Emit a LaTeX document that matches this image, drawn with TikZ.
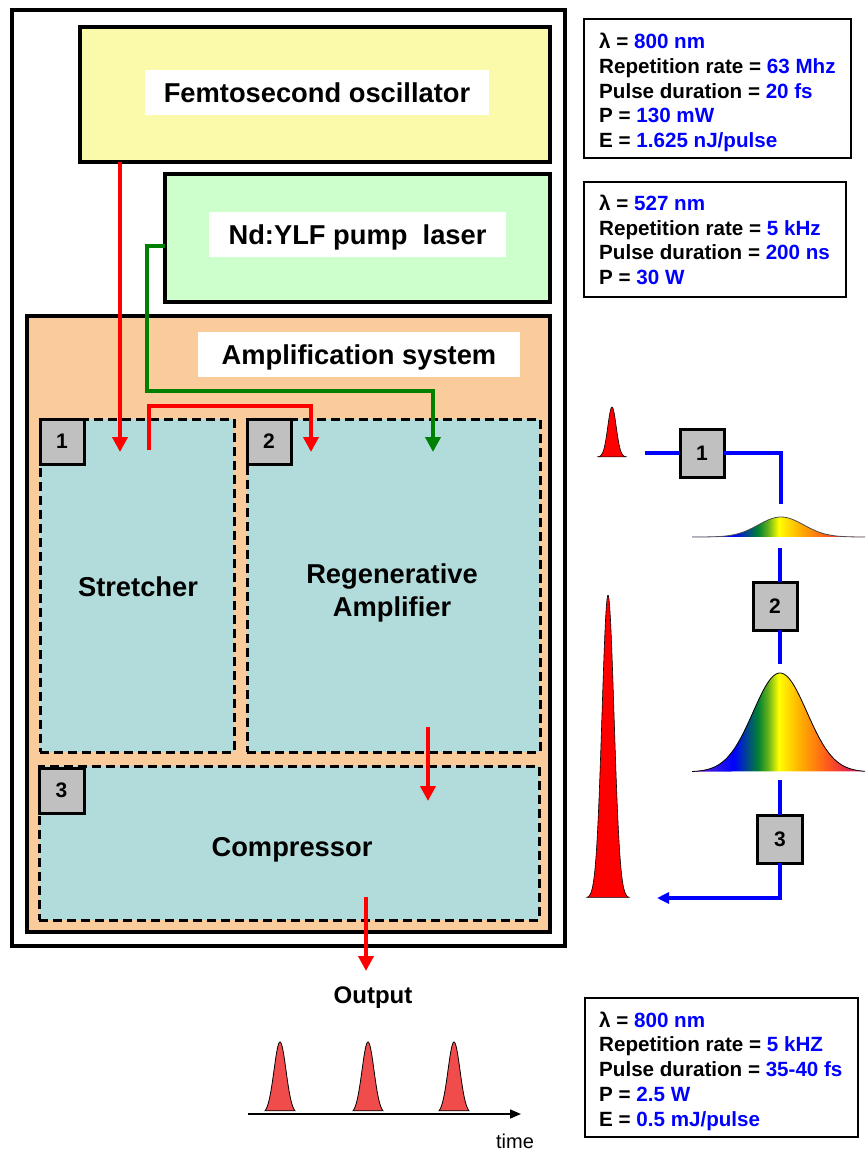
\documentclass[tikz,border=0pt]{standalone}
\usepackage{fontspec}
\setmainfont{Liberation Sans}
\usetikzlibrary{arrows.meta}
\definecolor{oscY}{RGB}{250,250,170}
\definecolor{pumpG}{RGB}{204,255,204}
\definecolor{ampO}{RGB}{250,204,155}
\definecolor{stageC}{RGB}{178,220,220}
\definecolor{numG}{RGB}{192,192,192}
\definecolor{beamR}{RGB}{255,0,0}
\definecolor{beamG}{RGB}{0,128,0}
\definecolor{valB}{RGB}{0,0,255}
\definecolor{pulseR}{RGB}{240,76,76}
\pgfdeclarehorizontalshading{rainbow}{100bp}{rgb(0bp)=(0.55,0,0.75); rgb(25bp)=(0.55,0,0.75); rgb(31bp)=(0.2,0.1,0.9); rgb(37bp)=(0,0,1); rgb(44bp)=(0,0.5,0.2); rgb(47bp)=(0.4,0.7,0.1); rgb(50bp)=(1,1,0); rgb(56bp)=(1,0.7,0); rgb(64bp)=(1,0.35,0.1); rgb(70bp)=(0.9,0.15,0.3); rgb(75bp)=(0.9,0.2,0.5); rgb(100bp)=(0.9,0.2,0.5)}
\begin{document}
\begin{tikzpicture}[x=1pt,y=-1pt,
  boxframe/.style={draw=black, line width=3.5pt, inner sep=0pt, outer sep=0pt},
  whitelabel/.style={fill=white, inner sep=0pt, text height=19.5pt, text depth=0pt, font=\fontsize{27.3}{33}\selectfont\bfseries},
  txt/.style={inner sep=0pt, text height=19.5pt, text depth=0pt, font=\fontsize{27.3}{33}\selectfont\bfseries},
  stagebox/.style={draw=black, dash pattern=on 9pt off 5pt, line width=3pt, fill=stageC, inner sep=0pt, outer sep=0pt},
  numbox/.style={draw=black, line width=3pt, fill=numG, inner sep=0pt, outer sep=0pt, font=\fontsize{21}{21}\selectfont\bfseries},
  beam/.style={line width=4.5pt, -{Triangle[length=15pt,width=15pt]}},
  bline/.style={line width=3.8pt, draw=valB},
  infobox/.style={draw=black, line width=2pt, fill=white, inner sep=0pt},
  infotext/.style={align=left, anchor=west, inner sep=0pt, font=\fontsize{20.6}{24.7}\selectfont\bfseries},
  redpulse/.style={fill=red, draw=black, line width=0.6pt},
  outpulse/.style={fill=pulseR, draw=black, line width=0.8pt}
]
\useasboundingbox (0,0) rectangle (865,1151);

% ---------- left system ----------
\node[boxframe, minimum width=553pt, minimum height=936pt] (outer) at (288.5,478) {};
\node[boxframe, fill=oscY, minimum width=470pt, minimum height=135pt] (osc) at (315,94.5) {};
\node[whitelabel, minimum width=344pt, minimum height=45pt] (oscL) at (317,92.5) {Femtosecond oscillator};
\node[boxframe, fill=pumpG, minimum width=385pt, minimum height=128pt] (pump) at (357.5,238) {};
\node[whitelabel, minimum width=297pt, minimum height=45pt] (pumpL) at (357.5,234.5) {Nd:YLF pump\ \ laser};
\node[boxframe, fill=ampO, minimum width=523pt, minimum height=616pt] (amp) at (288.5,624) {};
\node[whitelabel, minimum width=322pt, minimum height=45pt] (ampL) at (359,354.5) {Amplification system};

\node[stagebox, minimum width=194pt, minimum height=333pt] (str) at (137,585.5) {};
\node[stagebox, minimum width=293pt, minimum height=333pt] (reg) at (393.5,585.5) {};
\node[stagebox, minimum width=500pt, minimum height=154pt] (comp) at (289,843) {};
\node[txt] (strL) at (138,587) {Stretcher};
\node[inner sep=0pt, align=center, font=\fontsize{27.3}{33}\selectfont\bfseries] (regL) at (392,592.5) {Regenerative\\Amplifier};
\node[txt] (compL) at (292,847) {Compressor};
\node[numbox, minimum width=44pt, minimum height=45pt] (n1) at (62,441.5) {1};
\node[numbox, minimum width=44pt, minimum height=45pt] (n2) at (269,441.5) {2};
\node[numbox, minimum width=45pt, minimum height=45pt] (n3) at (61.5,790.5) {3};

% beams
\coordinate (r1e) at (120,452);
\draw[beam, beamR] (osc.south -| r1e) -- (r1e);
\coordinate (r2s) at (149,450);
\coordinate (r2a) at (149,406);
\coordinate (r2b) at (311,406);
\coordinate (r2e) at (311,452);
\draw[beam, beamR] (r2s) -- (r2a) -- (r2b) -- (r2e);
\coordinate (g1) at (147,246);
\coordinate (g2) at (147,391);
\coordinate (g3) at (433,391);
\coordinate (g4) at (433,452);
\draw[beam, beamG] (pump.west |- g1) -- (g1) -- (g2) -- (g3) -- (g4);
\coordinate (r3s) at (428,727);
\coordinate (r3e) at (428,801);
\draw[beam, beamR] (r3s) -- (r3e);
\coordinate (r4s) at (366,897);
\coordinate (r4e) at (366,971);
\draw[beam, beamR] (r4s) -- (r4e);
\node[inner sep=0pt, text height=17.2pt, text depth=0pt, font=\fontsize{24}{24}\selectfont\bfseries] (outL) at (373,995) {Output};

% output pulse train
\foreach \c in {280,368,454}{
  \filldraw[outpulse] plot[domain=-15:15, samples=50] ({\c+\x},{1114-72*exp(-(\x/8.5)*(\x/8.5))}) -- cycle;
}
\coordinate (ax0) at (248,1114);
\coordinate (ax1) at (521,1114);
\draw[line width=1.5pt, -{Triangle[length=11pt,width=9pt]}] (ax0) -- (ax1);
\node[anchor=base, inner sep=0pt, font=\fontsize{20}{20}\selectfont] (timeL) at (515,1148) {time};

% ---------- info boxes ----------
\node[infobox, minimum width=267pt, minimum height=139pt] (i1) at (717.5,88.5) {};
\node[infotext] (i1t) at (599,92.5) {λ = \textcolor{valB}{800 nm}\\Repetition rate = \textcolor{valB}{63 Mhz}\\Pulse duration = \textcolor{valB}{20 fs}\\P = \textcolor{valB}{130 mW}\\E = \textcolor{valB}{1.625 nJ/pulse}};
\node[infobox, minimum width=262pt, minimum height=115pt] (i2) at (715,239.5) {};
\node[infotext] (i2t) at (599,240) {λ = \textcolor{valB}{527 nm}\\Repetition rate = \textcolor{valB}{5 kHz}\\Pulse duration = \textcolor{valB}{200 ns}\\P = \textcolor{valB}{30 W}};
\node[infobox, minimum width=273pt, minimum height=139pt] (i3) at (721.5,1067.5) {};
\node[infotext] (i3t) at (599,1071) {λ = \textcolor{valB}{800 nm}\\Repetition rate = \textcolor{valB}{5 kHZ}\\Pulse duration = \textcolor{valB}{35-40 fs}\\P = \textcolor{valB}{2.5 W}\\E = \textcolor{valB}{0.5 mJ/pulse}};

% ---------- right pulse evolution ----------
\filldraw[redpulse] plot[domain=-15:15, samples=50] ({612+\x},{457-50*exp(-(\x/6)*(\x/6))}) -- cycle;
\filldraw[redpulse] plot[domain=-21:21, samples=60] ({608+\x},{898-303*exp(-(\x/8.5)*(\x/8.5))}) -- cycle;

\shade[shading=rainbow] plot[domain=-89:84, samples=100] ({781+\x},{537-20*exp(-(\x/32)*(\x/32))}) -- cycle;
\draw[line width=0.8pt, black!70] plot[domain=-89:84, samples=100] ({781+\x},{537-20*exp(-(\x/32)*(\x/32))});
\shade[shading=rainbow] plot[domain=-88:85, samples=100] ({780+\x},{772-99*exp(-(\x/38)*(\x/38))}) -- cycle;
\draw[line width=0.8pt, black] plot[domain=-88:85, samples=100] ({780+\x},{772-99*exp(-(\x/38)*(\x/38))});

\coordinate (bst) at (645,453);
\node[numbox, minimum width=44pt, minimum height=48pt] (b1) at (702,453) {1};
\coordinate (bc1) at (781,453);
\coordinate (bc1e) at (781,504);
\draw[bline] (bst) -- (b1.west);
\draw[bline] (b1.east) -- (bc1) -- (bc1e);
\coordinate (bc2s) at (780,548);
\node[numbox, minimum width=44pt, minimum height=48pt] (b2) at (775,606) {2};
\draw[bline] (bc2s) -- (bc2s |- b2.north);
\coordinate (bc2e) at (780,664);
\draw[bline] (bc2e |- b2.south) -- (bc2e);
\coordinate (bc3s) at (780,780);
\node[numbox, minimum width=45pt, minimum height=48pt] (b3) at (780,839) {3};
\draw[bline] (bc3s) -- (b3.north);
\coordinate (bc3c) at (780,898);
\coordinate (bend) at (657,898);
\draw[bline, -{Triangle[length=12pt,width=11pt]}] (b3.south) -- (bc3c) -- (bend);
\end{tikzpicture}
\end{document}
